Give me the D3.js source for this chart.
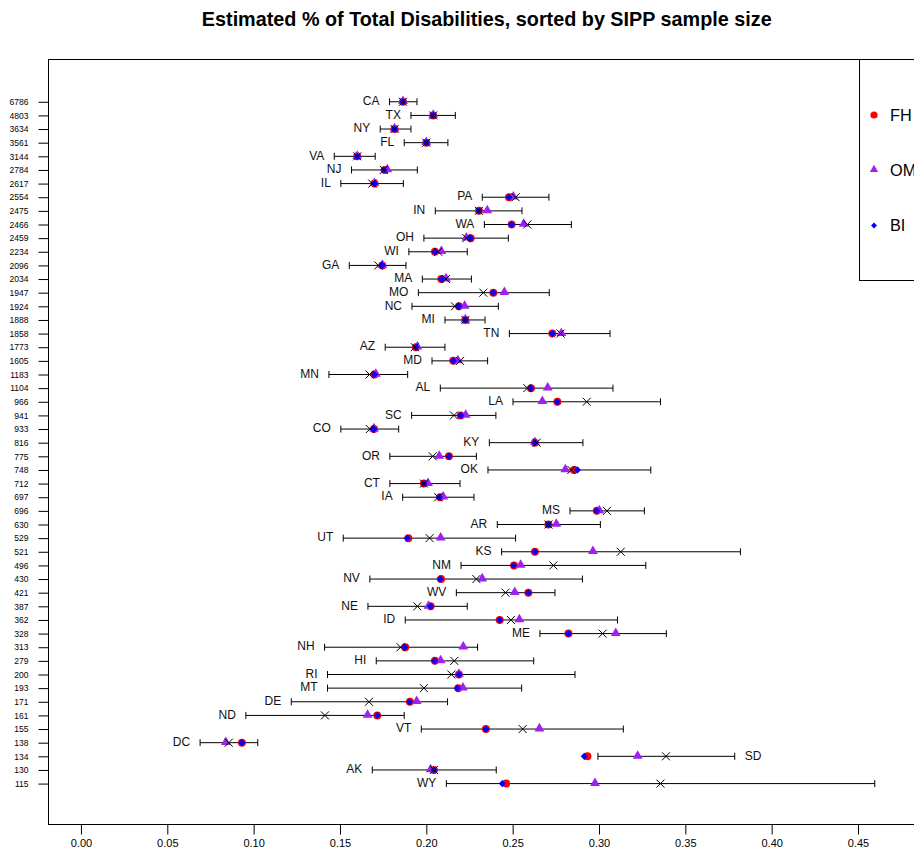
<!DOCTYPE html>
<html>
<head>
<meta charset="utf-8">
<script src="https://cdn.jsdelivr.net/npm/d3@7"></script>
<style>
  body { margin: 0; background: #fff; }
  svg { display: block; font-family: "Liberation Sans", Arial, Helvetica, sans-serif; }
  .tick line { stroke: #000; }
  .ci { stroke: #000; stroke-width: 1; fill: none; }
  .direct { stroke: #000; stroke-width: 1; fill: none; }
</style>
</head>
<body>
<script>
// rows from top to bottom, sorted by SIPP sample size
var states = ["CA","TX","NY","FL","VA","NJ","IL","PA","IN","WA","OH","WI","GA","MA","MO","NC","MI","TN","AZ","MD",
  "MN","AL","LA","SC","CO","KY","OR","OK","CT","IA","MS","AR","UT","KS","NM","NV","WV","NE","ID","ME",
  "NH","HI","RI","MT","DE","ND","VT","DC","SD","AK","WY"];
var sampleSize = [6786,4803,3634,3561,3144,2784,2617,2554,2475,2466,2459,2234,2096,2034,1947,1924,1888,1858,1773,1605,
  1183,1104,966,941,933,816,775,748,712,697,696,630,529,521,496,430,421,387,362,328,
  313,279,200,193,171,161,155,138,134,130,115];
var ciLower = [.1787,.1911,.1733,.1872,.1467,.1567,.1505,.2324,.2052,.2336,.1986,.1899,.1554,.1977,.1954,.1917,.2108,.2481,.1762,.2033,
  .1436,.2081,.2502,.1915,.1505,.2365,.1789,.2357,.1789,.1863,.2832,.2411,.1519,.2436,.2201,.1673,.2174,.1662,.1878,.2658,
  .1411,.1710,.1428,.1428,.1218,.0955,.1971,.0690,.2994,.1687,.2116];
var ciUpper = [.1946,.2168,.1911,.2125,.1704,.1948,.1867,.2710,.2554,.2840,.2475,.2237,.1882,.2261,.2712,.2417,.2340,.3064,.2108,.2355,
  .1892,.3081,.3356,.2403,.1840,.2907,.2290,.3300,.2195,.2276,.3263,.3008,.2517,.3819,.3271,.2904,.2745,.2237,.3107,.3390,
  .2297,.2622,.2861,.2552,.2123,.1872,.3141,.1024,.3786,.2405,.4597];
var direct = [.1865,.2040,.1816,.2000,.1600,.1754,.1687,.2517,.2305,.2585,.2232,.2069,.1722,.2114,.2330,.2166,.2226,.2778,.1934,.2195,
  .1671,.2585,.2929,.2160,.1673,.2639,.2037,.2840,.1986,.2069,.3046,.2707,.2019,.3126,.2736,.2290,.2459,.1948,.2490,.3021,
  .1851,.2162,.2145,.1986,.1668,.1413,.2558,.0856,.3388,.2044,.3356];
var fh = [.1865,.2040,.1816,.2000,.1600,.1760,.1700,.2479,.2305,.2494,.2257,.2050,.1745,.2087,.2388,.2189,.2226,.2730,.1940,.2156,
  .1700,.2606,.2759,.2199,.1697,.2629,.2131,.2855,.1986,.2080,.2987,.2707,.1896,.2629,.2508,.2085,.2591,.2025,.2425,.2823,
  .1878,.2050,.2189,.2185,.1905,.1716,.2345,.0932,.2933,.2044,.2463];
var om = [.1865,.2040,.1816,.2000,.1600,.1774,.1700,.2504,.2353,.2564,.2232,.2087,.1745,.2114,.2452,.2222,.2226,.2782,.1948,.2183,
  .1708,.2703,.2672,.2228,.1697,.2629,.2075,.2805,.2010,.2098,.3002,.2753,.2083,.2965,.2546,.2324,.2512,.2013,.2539,.3097,
  .2214,.2083,.2189,.2212,.1944,.1660,.2655,.0839,.3224,.2025,.2977];
var bi = [.1865,.2040,.1816,.2000,.1600,.1754,.1700,.2479,.2305,.2494,.2257,.2050,.1745,.2087,.2388,.2189,.2226,.2730,.1940,.2156,
  .1700,.2606,.2759,.2199,.1697,.2629,.2131,.2875,.1986,.2075,.2987,.2707,.1890,.2629,.2505,.2080,.2591,.2025,.2425,.2823,
  .1876,.2048,.2189,.2180,.1903,.1716,.2345,.0932,.2915,.2044,.2440];
var xTicks = [0, 0.05, 0.10, 0.15, 0.20, 0.25, 0.30, 0.35, 0.40, 0.45];
var legendLabels = ["FH", "OM", "BI"];
var title = "Estimated % of Total Disabilities, sorted by SIPP sample size";

var colFH = "#ff0000", colOM = "#a020f0", colBI = "#0000ff";

var W = 914, H = 851;
var box = {left: 48.5, right: 925, top: 59.5, bottom: 824.5};

var n = states.length;
var rows = states.map(function(s, i){
  return {state: s, n: sampleSize[i], pos: n - i, lo: ciLower[i], hi: ciUpper[i],
          direct: direct[i], fh: fh[i], om: om[i], bi: bi[i]};
});

var x = d3.scaleLinear().domain([-0.0188, 0.4888]).range([box.left, box.right]);
var y = d3.scaleLinear().domain([-2.0, 54.1]).range([box.bottom, box.top]);

var svg = d3.select("body").append("svg").attr("width", W).attr("height", H);

svg.append("text")
  .attr("x", (box.left + box.right) / 2)
  .attr("y", 26)
  .attr("text-anchor", "middle")
  .style("font-size", "19.8px")
  .style("font-weight", "bold")
  .text(title);

// axes
var xAxis = d3.axisBottom(x).tickValues(xTicks).tickSize(10).tickPadding(5)
  .tickFormat(d3.format(".2f"));
var gx = svg.append("g").attr("transform", "translate(0," + box.bottom + ")").call(xAxis);
gx.select(".domain").remove();
gx.selectAll("text").style("font-size", "11px").attr("fill", "#000");

var yAxis = d3.axisLeft(y).tickValues(rows.map(function(d){ return d.pos; })).tickSize(10).tickPadding(10)
  .tickFormat(function(p){ return sampleSize[n - p]; });
var gy = svg.append("g").attr("transform", "translate(" + box.left + ",0)").call(yAxis);
gy.select(".domain").remove();
gy.selectAll("text").style("font-size", "8.5px").attr("fill", "#000");

svg.append("rect")
  .attr("x", box.left).attr("y", box.top)
  .attr("width", box.right - box.left).attr("height", box.bottom - box.top)
  .attr("fill", "none").attr("stroke", "#000").attr("stroke-width", 1);

// confidence intervals
var g = svg.append("g");
var cap = 3.5;
g.selectAll("path.ci").data(rows).enter().append("path")
  .attr("class", "ci")
  .attr("d", function(d){
    var a = x(d.lo), b = x(d.hi), yy = y(d.pos);
    return "M" + a + "," + yy + "H" + b +
      "M" + a + "," + (yy - cap) + "V" + (yy + cap) +
      "M" + b + "," + (yy - cap) + "V" + (yy + cap);
  });

// state labels, left of the interval unless a model estimate falls left of it
g.selectAll("text.lab").data(rows).enter().append("text")
  .attr("class", "lab")
  .style("font-size", "12px")
  .attr("fill", "#111")
  .attr("dy", "0.35em")
  .attr("y", function(d){ return y(d.pos) - 1; })
  .attr("x", function(d){
    var left = Math.min(d.fh, d.om, d.bi) >= d.lo;
    return left ? x(d.lo) - 10 : x(d.hi) + 10;
  })
  .attr("text-anchor", function(d){
    return Math.min(d.fh, d.om, d.bi) >= d.lo ? "end" : "start";
  })
  .text(function(d){ return d.state; });

var tri = d3.symbol().type(d3.symbolTriangle).size(42);
var dia = d3.symbol().type(d3.symbolSquare).size(26);

g.selectAll("circle.fh").data(rows).enter().append("circle")
  .attr("cx", function(d){ return x(d.fh); })
  .attr("cy", function(d){ return y(d.pos); })
  .attr("r", 4).attr("fill", colFH);

g.selectAll("path.om").data(rows).enter().append("path")
  .attr("d", tri)
  .attr("transform", function(d){ return "translate(" + x(d.om) + "," + (y(d.pos) - 0.5) + ")"; })
  .attr("fill", colOM);

g.selectAll("path.bi").data(rows).enter().append("path")
  .attr("d", dia)
  .attr("transform", function(d){ return "translate(" + x(d.bi) + "," + y(d.pos) + ") rotate(45)"; })
  .attr("fill", colBI);

g.selectAll("path.direct").data(rows).enter().append("path")
  .attr("class", "direct")
  .attr("d", "M-4,-4L4,4M-4,4L4,-4")
  .attr("transform", function(d){ return "translate(" + x(d.direct) + "," + y(d.pos) + ")"; });

// legend
var lg = svg.append("g");
lg.append("rect")
  .attr("x", 859.5).attr("y", box.top)
  .attr("width", box.right - 859.5).attr("height", 280.5 - box.top)
  .attr("fill", "#fff").attr("stroke", "#000").attr("stroke-width", 1);
var ly = [115, 170, 225.5];
lg.append("circle").attr("cx", 874).attr("cy", ly[0]).attr("r", 3.6).attr("fill", colFH);
lg.append("path").attr("d", d3.symbol().type(d3.symbolTriangle).size(30))
  .attr("transform", "translate(874," + (ly[1] - 0.5) + ")").attr("fill", colOM);
lg.append("path").attr("d", d3.symbol().type(d3.symbolSquare).size(18))
  .attr("transform", "translate(874," + ly[2] + ") rotate(45)").attr("fill", colBI);
lg.selectAll("text").data(legendLabels).enter().append("text")
  .attr("x", 890)
  .attr("y", function(d, i){ return ly[i]; })
  .attr("dy", "0.36em")
  .style("font-size", "16.3px")
  .text(function(d){ return d; });
</script>
</body>
</html>
